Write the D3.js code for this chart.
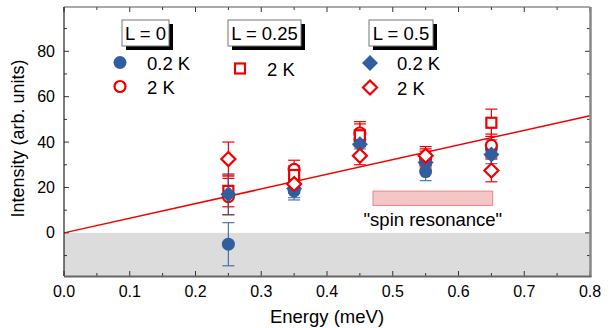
<!DOCTYPE html>
<html>
<head>
<meta charset="utf-8">
<script src="https://cdn.jsdelivr.net/npm/d3@7"></script>
<style>
  body { margin: 0; background: #fff; }
  text { font-family: "Liberation Sans", Arial, sans-serif; fill: #000; }
</style>
</head>
<body>
<div id="viz"></div>
<script>
// Data
const energies = [0.25, 0.35, 0.45, 0.55, 0.65];

const l0Cold  = [-5, 18.5, 41, 27, 37];        // L = 0, 0.2 K
const l0ColdErr = [9.5, 4, 4, 4, 4];
const l0Warm  = [16, 28, 44, 33, 38.5];        // L = 0, 2 K
const l0WarmErr = [8, 4, 5, 4, 5];
const l25Warm = [18.5, 25.5, 43, 32, 48.5];    // L = 0.25, 2 K
const l25WarmErr = [7, 4, 5, 4, 6];
const l5Cold  = [17, 19.5, 39, 31, 34.5];      // L = 0.5, 0.2 K
const l5ColdErr = [9, 4, 4, 4, 4];
const l5Warm  = [32.5, 21.5, 34, 34, 27.5];    // L = 0.5, 2 K
const l5WarmErr = [7.5, 4, 4, 4, 5];

const xTicks = [0, 0.1, 0.2, 0.3, 0.4, 0.5, 0.6, 0.7, 0.8];
const yTicks = [0, 20, 40, 60, 80];
const slope = 64.5;   // linear fit through origin
const resonanceBand = [0.47, 0.652, 12.1, 18.4];

const blue = "#2f5f9e";
const red = "#f00000";

const margin = { top: 7, right: 23, bottom: 52, left: 64 },
      width  = 613 - margin.left - margin.right,
      height = 328 - margin.top - margin.bottom;

const svg = d3.select("#viz")
  .append("svg")
  .attr("width", 613)
  .attr("height", 328)
  .append("g")
  .attr("transform", `translate(${margin.left},${margin.top})`);

const x = d3.scaleLinear().domain([0, 0.8]).range([0, width]);
const y = d3.scaleLinear().domain([-19, 99.5]).range([height, 0]);

// grey negative region
svg.append("rect")
  .attr("x", 0)
  .attr("y", y(0))
  .attr("width", width)
  .attr("height", height - y(0))
  .attr("fill", "#dcdcdc");

// ticks, all pointing inward
const xMajor = xTicks, xMinor = d3.range(0.05, 0.8, 0.1);
const yMajor = d3.range(-20, 100, 20).filter(v => v >= -19), yMinor = d3.range(-10, 100, 20);

function tickSet(vals, len, side) {
  svg.append("g")
    .selectAll("line")
    .data(vals)
    .join("line")
    .attr("x1", d => side === "b" || side === "t" ? x(d) : (side === "l" ? 0 : width))
    .attr("x2", d => side === "b" || side === "t" ? x(d) : (side === "l" ? len : width - len))
    .attr("y1", d => side === "b" ? height : side === "t" ? 0 : y(d))
    .attr("y2", d => side === "b" ? height - len : side === "t" ? len : y(d))
    .attr("stroke", "#333")
    .attr("stroke-width", 1);
}
tickSet(xMajor, 5, "b"); tickSet(xMinor, 3, "b");
tickSet(xMajor, 5, "t"); tickSet(xMinor, 3, "t");
tickSet(yMajor, 5, "l"); tickSet(yMinor, 3, "l");
tickSet(yMajor, 5, "r"); tickSet(yMinor, 3, "r");

// fit line
svg.append("line")
  .attr("x1", x(0)).attr("y1", y(0))
  .attr("x2", x(0.8)).attr("y2", y(slope * 0.8))
  .attr("stroke", red)
  .attr("stroke-width", 1.5);

// "spin resonance" band
svg.append("rect")
  .attr("x", x(resonanceBand[0]))
  .attr("y", y(resonanceBand[3]))
  .attr("width", x(resonanceBand[1]) - x(resonanceBand[0]))
  .attr("height", y(resonanceBand[2]) - y(resonanceBand[3]))
  .attr("fill", "#f6c5c5")
  .attr("stroke", "#e58585")
  .attr("stroke-width", 1);
svg.append("text")
  .attr("x", x((resonanceBand[0] + resonanceBand[1]) / 2))
  .attr("y", y(resonanceBand[2]) + 21)
  .attr("text-anchor", "middle")
  .style("font-size", "18.5px")
  .text("\"spin resonance\"");

// series
const series = [
  { vals: l0Cold,  err: l0ColdErr,  shape: "circle",  color: blue, filled: true },
  { vals: l0Warm,  err: l0WarmErr,  shape: "circle",  color: red,  filled: false },
  { vals: l25Warm, err: l25WarmErr, shape: "square",  color: red,  filled: false },
  { vals: l5Cold,  err: l5ColdErr,  shape: "diamond", color: blue, filled: true },
  { vals: l5Warm,  err: l5WarmErr,  shape: "diamond", color: red,  filled: false },
];

function marker(g, shape, color, filled) {
  if (shape === "circle") {
    g.append("circle").attr("r", filled ? 6.5 : 5.5);
  } else if (shape === "square") {
    g.append("rect").attr("x", -5).attr("y", -5).attr("width", 10).attr("height", 10);
  } else {
    const s = filled ? 8 : 7;
    g.append("path").attr("d", `M0,${-s}L${s},0L0,${s}L${-s},0Z`);
  }
  g.selectAll("*")
    .attr("fill", filled ? color : "#fff")
    .attr("stroke", color)
    .attr("stroke-width", filled ? 0 : 2.2);
}

// error bars first
series.forEach(s => {
  const pts = energies.map((e, i) => ({ e, v: s.vals[i], err: s.err[i] }));
  const eb = svg.append("g")
    .attr("stroke", s.color)
    .attr("stroke-width", 1.2)
    .attr("opacity", s.filled ? 0.85 : 1);
  eb.selectAll("line.v").data(pts).join("line")
    .attr("x1", d => x(d.e)).attr("x2", d => x(d.e))
    .attr("y1", d => y(d.v - d.err)).attr("y2", d => y(d.v + d.err));
  eb.selectAll("line.top").data(pts).join("line")
    .attr("x1", d => x(d.e) - 6).attr("x2", d => x(d.e) + 6)
    .attr("y1", d => y(d.v + d.err)).attr("y2", d => y(d.v + d.err));
  eb.selectAll("line.bot").data(pts).join("line")
    .attr("x1", d => x(d.e) - 6).attr("x2", d => x(d.e) + 6)
    .attr("y1", d => y(d.v - d.err)).attr("y2", d => y(d.v - d.err));
});

series.forEach(s => {
  energies.forEach((e, i) => {
    const g = svg.append("g").attr("transform", `translate(${x(e)},${y(s.vals[i])})`);
    marker(g, s.shape, s.color, s.filled);
  });
});

// frame: thin top/left, heavier shadowed right/bottom
svg.append("line").attr("x1", 0).attr("x2", width).attr("y1", 0).attr("y2", 0)
  .attr("stroke", "#555").attr("stroke-width", 1);
svg.append("line").attr("x1", 0).attr("x2", 0).attr("y1", 0).attr("y2", height)
  .attr("stroke", "#222").attr("stroke-width", 1.2);
svg.append("line").attr("x1", width + 0.5).attr("x2", width + 0.5).attr("y1", 0).attr("y2", height + 1)
  .attr("stroke", "#888").attr("stroke-width", 2.5);
svg.append("line").attr("x1", 0).attr("x2", width + 1.5).attr("y1", height + 0.5).attr("y2", height + 0.5)
  .attr("stroke", "#666").attr("stroke-width", 2.2);

// tick labels
svg.append("g")
  .selectAll("text")
  .data(xTicks)
  .join("text")
  .attr("x", d => x(d))
  .attr("y", height + 21)
  .attr("text-anchor", "middle")
  .style("font-size", "16px")
  .text(d => d.toFixed(1));

svg.append("g")
  .selectAll("text")
  .data(yTicks)
  .join("text")
  .attr("x", -9)
  .attr("y", d => y(d) + 5.5)
  .attr("text-anchor", "end")
  .style("font-size", "16px")
  .text(d => d);

// axis titles
svg.append("text")
  .attr("x", width / 2)
  .attr("y", height + 47)
  .attr("text-anchor", "middle")
  .style("font-size", "18.5px")
  .text("Energy (meV)");

svg.append("text")
  .attr("transform", `translate(${-40},${height / 2 - 3})rotate(-90)`)
  .attr("text-anchor", "middle")
  .style("font-size", "18px")
  .text("Intensity (arb. units)");

// legend (page coordinates)
const legend = d3.select("#viz svg").append("g");
const legendBoxes = [
  { label: "L = 0",    x: 122, w: 47 },
  { label: "L = 0.25", x: 228, w: 73 },
  { label: "L = 0.5",  x: 369, w: 64 },
];
legendBoxes.forEach(b => {
  legend.append("rect").attr("x", b.x + 4).attr("y", 24).attr("width", b.w).attr("height", 26).attr("fill", "#000");
  legend.append("rect").attr("x", b.x).attr("y", 20).attr("width", b.w).attr("height", 26)
    .attr("fill", "#fff").attr("stroke", "#777").attr("stroke-width", 1);
  legend.append("text").attr("x", b.x + b.w / 2).attr("y", 40).attr("text-anchor", "middle")
    .style("font-size", "18.5px").text(b.label);
});
const legendItems = [
  { s: series[0], x: 120, y: 62.5, label: "0.2 K" },
  { s: series[1], x: 120, y: 86.5, label: "2 K" },
  { s: series[2], x: 240, y: 68.5, label: "2 K" },
  { s: series[3], x: 370, y: 63,   label: "0.2 K" },
  { s: series[4], x: 370, y: 87.5, label: "2 K" },
];
legendItems.forEach(it => {
  const g = legend.append("g").attr("transform", `translate(${it.x},${it.y})`);
  marker(g, it.s.shape, it.s.color, it.s.filled);
  legend.append("text").attr("x", it.x + 27).attr("y", it.y + 7)
    .style("font-size", "18.5px").text(it.label);
});
</script>
</body>
</html>
